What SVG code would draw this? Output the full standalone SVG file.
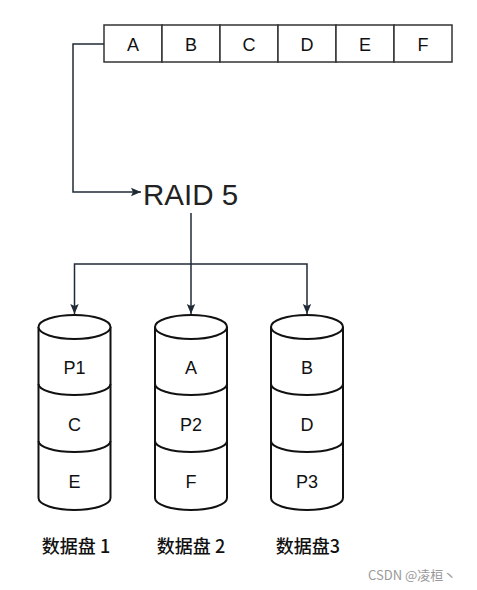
<svg xmlns="http://www.w3.org/2000/svg" width="477" height="590" viewBox="0 0 477 590">
<style>
.cell{fill:#fff;stroke:#333;stroke-width:1.5}
.t{font-family:"Liberation Sans",Arial,sans-serif;font-size:18px;fill:#111;text-anchor:middle}
.con{fill:none;stroke:#1f2a36;stroke-width:1.5}
.cyl{fill:#fff;stroke:#111;stroke-width:2}
.div{fill:none;stroke:#111;stroke-width:2}
.lbl{font-family:"Noto Sans CJK SC","Liberation Sans",sans-serif;font-size:18px;font-weight:500;fill:#111;text-anchor:middle}
</style>
<defs>
<marker id="ah" viewBox="0 0 10 10" refX="10" refY="5" markerWidth="10" markerHeight="10" markerUnits="userSpaceOnUse" orient="auto">
<path d="M0,0.8 L10,5 L0,9.2 L2,5 Z" fill="#1f2a36"/>
</marker>
</defs>
<rect width="477" height="590" fill="#fff"/>
<g id="data">
<rect class="cell" x="104" y="25" width="58" height="37"/>
<rect class="cell" x="162" y="25" width="58" height="37"/>
<rect class="cell" x="220" y="25" width="58" height="37"/>
<rect class="cell" x="278" y="25" width="58" height="37"/>
<rect class="cell" x="336" y="25" width="58" height="37"/>
<rect class="cell" x="394" y="25" width="58" height="37"/>
<text class="t" x="133" y="50.5">A</text>
<text class="t" x="191" y="50.5">B</text>
<text class="t" x="249" y="50.5">C</text>
<text class="t" x="307" y="50.5">D</text>
<text class="t" x="365" y="50.5">E</text>
<text class="t" x="423" y="50.5">F</text>
</g>
<g id="raid">
<text x="143" y="205" font-family="'Liberation Sans',Arial,sans-serif" font-size="29.5" fill="#222">RAID 5</text>
</g>
<g id="connectors">
<path class="con" d="M104,44 H73 V192 H141" marker-end="url(#ah)"/>
<path class="con" d="M191,213 V314" marker-end="url(#ah)"/>
<path class="con" d="M191,264 H74.5 V314" marker-end="url(#ah)"/>
<path class="con" d="M191,264 H307 V314" marker-end="url(#ah)"/>
</g>
<g id="disk1">
<path class="cyl" d="M38.5,327 V498 A36,12 0 0 0 110.5,498 V327"/>
<ellipse class="cyl" cx="74.5" cy="327" rx="36" ry="12"/>
<path class="div" d="M38.5,384 A36,11 0 0 0 110.5,384 M38.5,441 A36,11 0 0 0 110.5,441"/>
<text class="t" x="74.5" y="373.5">P1</text>
<text class="t" x="74.5" y="430.5">C</text>
<text class="t" x="74.5" y="487.5">E</text>
</g>
<g id="disk2">
<path class="cyl" d="M155,327 V498 A36,12 0 0 0 227,498 V327"/>
<ellipse class="cyl" cx="191" cy="327" rx="36" ry="12"/>
<path class="div" d="M155,384 A36,11 0 0 0 227,384 M155,441 A36,11 0 0 0 227,441"/>
<text class="t" x="191" y="373.5">A</text>
<text class="t" x="191" y="430.5">P2</text>
<text class="t" x="191" y="487.5">F</text>
</g>
<g id="disk3">
<path class="cyl" d="M271,327 V498 A36,12 0 0 0 343,498 V327"/>
<ellipse class="cyl" cx="307" cy="327" rx="36" ry="12"/>
<path class="div" d="M271,384 A36,11 0 0 0 343,384 M271,441 A36,11 0 0 0 343,441"/>
<text class="t" x="307" y="373.5">B</text>
<text class="t" x="307" y="430.5">D</text>
<text class="t" x="307" y="487.5">P3</text>
</g>
<g id="labels">
<text class="lbl" x="76" y="553">数据盘 1</text>
<text class="lbl" x="191" y="553">数据盘 2</text>
<text class="lbl" x="308" y="553">数据盘3</text>
</g>
<text x="368" y="580" font-family="'Noto Sans CJK SC','Liberation Sans',sans-serif" font-size="13" fill="#999">CSDN @凌桓丶</text>
</svg>
